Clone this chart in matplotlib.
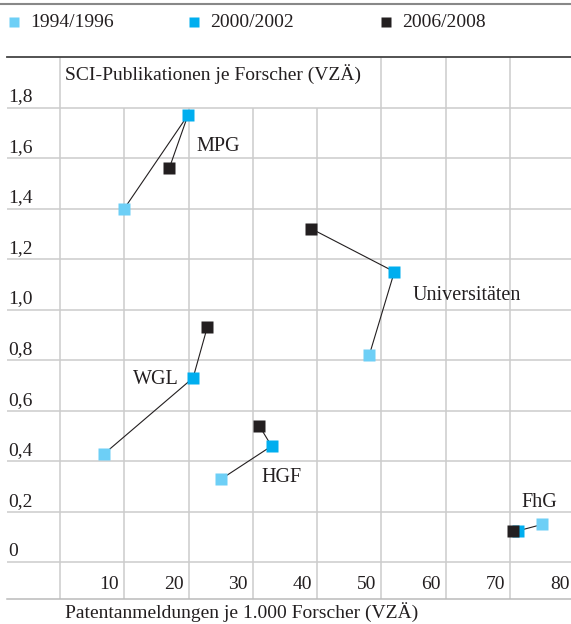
import matplotlib.pyplot as plt
from matplotlib.lines import Line2D

plt.rcParams['font.family'] = ['Liberation Serif', 'DejaVu Serif']
plt.rcParams['font.size'] = 14

# data: x = Patentanmeldungen je 1.000 Forscher (VZÄ), y = SCI-Publikationen je Forscher (VZÄ)
periods = ['1994/1996', '2000/2002', '2006/2008']
colors = ['#6dcff6', '#00aeef', '#231f20']
orgs = ['MPG', 'Universitäten', 'WGL', 'HGF', 'FhG']
patents_1994 = [10.0, 48.1, 6.9, 25.1, 75.0]
patents_2000 = [19.9, 52.0, 20.7, 32.9, 71.3]
patents_2006 = [17.0, 39.1, 22.9, 31.0, 70.5]
pubs_1994 = [1.40, 0.82, 0.43, 0.33, 0.15]
pubs_2000 = [1.77, 1.15, 0.73, 0.46, 0.125]
pubs_2006 = [1.56, 1.32, 0.93, 0.54, 0.125]
xticks = [10, 20, 30, 40, 50, 60, 70, 80]
yticks = [0, 0.2, 0.4, 0.6, 0.8, 1.0, 1.2, 1.4, 1.6, 1.8]
ytick_labels = ['0', '0,2', '0,4', '0,6', '0,8', '1,0', '1,2', '1,4', '1,6', '1,8']

# where the organisation names sit (data coords)
label_pos = [(21.15, 1.628), (54.85, 1.038), (11.3, 0.706), (31.3, 0.318), (71.8, 0.218)]

txt = '#231f20'
grid = '#cccccc'

fig = plt.figure(figsize=(5.71, 6.24), dpi=100)
ax = fig.add_axes([7 / 571, 25 / 624, 564 / 571, 542 / 624])
ax.set_xlim(-8.24, 79.47)
ax.set_ylim(-0.1453, 2.0)

# grid
for v in yticks:
    ax.axhline(v, color=grid, lw=1.1, zorder=0)
for v in [0] + xticks:
    top = 1.8 if 10 <= v <= 40 else 2.0   # title text covers these
    ax.vlines(v, -0.1453, top, color=grid, lw=1.1, zorder=0, clip_on=False)

for s in ['left', 'right']:
    ax.spines[s].set_visible(False)
ax.spines['top'].set_color('#444444')
ax.spines['top'].set_linewidth(1.3)
ax.spines['bottom'].set_color('#bbbbbb')
ax.spines['bottom'].set_linewidth(1.1)
ax.set_xticks([])
ax.set_yticks([])

# tick labels drawn as text
for v, lab in zip(yticks, ytick_labels):
    ax.text(-8.04, v + 0.024, lab, ha='left', va='baseline', color=txt)
for v in xticks:
    ax.text(v - 0.78, -0.107, str(v), ha='right', va='baseline', color=txt, clip_on=False)

ax.text(0.78, 1.909, 'SCI-Publikationen je Forscher (VZÄ)', ha='left', va='baseline', color=txt)
fig.text(65 / 571, 0.010, 'Patentanmeldungen je 1.000 Forscher (VZÄ)', ha='left', va='baseline', color=txt)

# connecting lines, then markers
xs = [patents_1994, patents_2000, patents_2006]
ys = [pubs_1994, pubs_2000, pubs_2006]
for i in range(len(orgs)):
    ax.plot([x[i] for x in xs], [y[i] for y in ys], color=txt, lw=0.8, zorder=2)
for x, y, c in zip(xs, ys, colors):
    ax.plot(x, y, ls='none', marker='s', ms=8, mfc=c, mec='none', zorder=3)

for name, (lx, ly) in zip(orgs, label_pos):
    ax.text(lx, ly, name, ha='left', va='baseline', color=txt, fontsize=14.5)

# legend across the top
leg_x = [14.3, 193.7, 386]
for px, p, c in zip(leg_x, periods, colors):
    fig.add_artist(Line2D([px / 571], [1 - 21.7 / 624], marker='s', ms=7.8,
                          mfc=c, mec='none', ls='none', transform=fig.transFigure))
    fig.text((px + 16) / 571, 1 - 26.7 / 624, p, ha='left', va='baseline', color=txt)

fig.add_artist(Line2D([0, 1], [1 - 4 / 624] * 2, color='#888888', lw=1.5,
                      transform=fig.transFigure))

fig.savefig('out.png', dpi=100)
